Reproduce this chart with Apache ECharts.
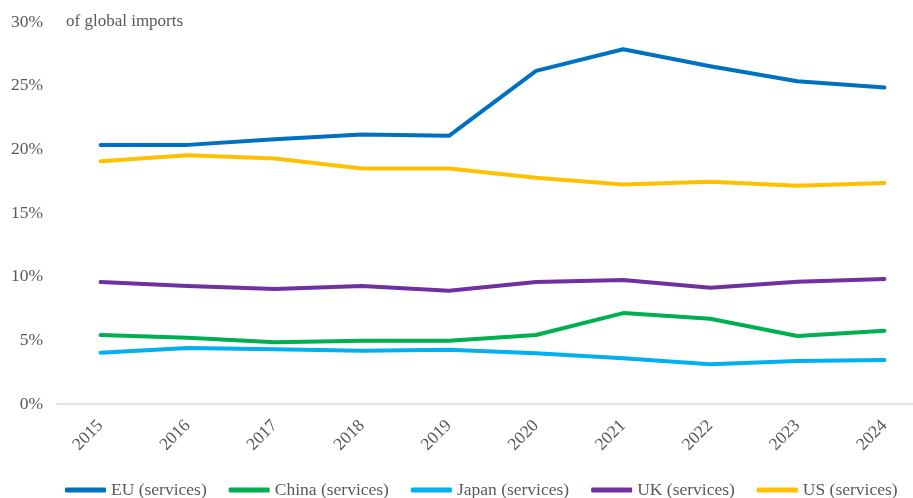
<!DOCTYPE html>
<html>
<head>
<meta charset="utf-8">
<script src="https://cdn.jsdelivr.net/npm/echarts@6/dist/echarts.min.js"></script>
<style>html,body{margin:0;padding:0;background:#fff}#c{width:913px;height:498px}</style>
</head>
<body>
<div id="c"></div>
<script>
var years = ['2015','2016','2017','2018','2019','2020','2021','2022','2023','2024'];
var yTicks = [0,5,10,15,20,25,30];
var euServices = [20.35,20.35,20.8,21.17,21.06,26.16,27.86,26.53,25.35,24.86];
var chinaServices = [5.42,5.2,4.84,4.97,4.97,5.42,7.14,6.7,5.34,5.75];
var japanServices = [4.03,4.4,4.29,4.19,4.27,3.98,3.59,3.12,3.38,3.45];
var ukServices = [9.58,9.26,9.03,9.26,8.89,9.58,9.73,9.13,9.6,9.81];
var usServices = [19.07,19.54,19.28,18.5,18.5,17.76,17.24,17.45,17.14,17.35];

var font = 'Liberation Serif';
var grey = '#595959';
function mk(name, data, color) {
  return {
    name: name, type: 'line', data: data, symbol: 'none',
    lineStyle: { width: 4, color: color, cap: 'round', join: 'round' },
    itemStyle: { color: color }
  };
}
var chart = echarts.init(document.getElementById('c'));
chart.setOption({
  animation: false,
  title: {
    text: 'of global imports', left: 61, top: 8,
    textStyle: { fontFamily: font, fontSize: 17, fontWeight: 'normal', color: grey }
  },
  grid: { left: 57, width: 871, top: 22, height: 382, containLabel: false, outerBoundsMode: 'none' },
  legend: {
    top: 476, left: 60, itemGap: 22, itemWidth: 41, itemHeight: 5, icon: 'roundRect',
    textStyle: { fontFamily: font, fontSize: 17.5, color: grey }
  },
  xAxis: {
    type: 'category', data: years, boundaryGap: true,
    axisLine: { lineStyle: { color: '#d9d9d9', width: 1.5 } },
    axisTick: { show: false },
    axisLabel: { rotate: 45, fontFamily: font, fontSize: 17.5, color: grey, margin: 19 }
  },
  yAxis: {
    type: 'value', min: yTicks[0], max: yTicks[yTicks.length-1], interval: 5,
    axisLine: { show: false }, axisTick: { show: false },
    splitLine: { show: false },
    axisLabel: { formatter: '{value}%', fontFamily: font, fontSize: 17.5, color: grey, margin: 14 }
  },
  series: [
    mk('EU (services)', euServices, '#0070C0'),
    mk('China (services)', chinaServices, '#00B050'),
    mk('Japan (services)', japanServices, '#00B0F0'),
    mk('UK (services)', ukServices, '#7030A0'),
    mk('US (services)', usServices, '#FFC000')
  ]
});
</script>
</body>
</html>
